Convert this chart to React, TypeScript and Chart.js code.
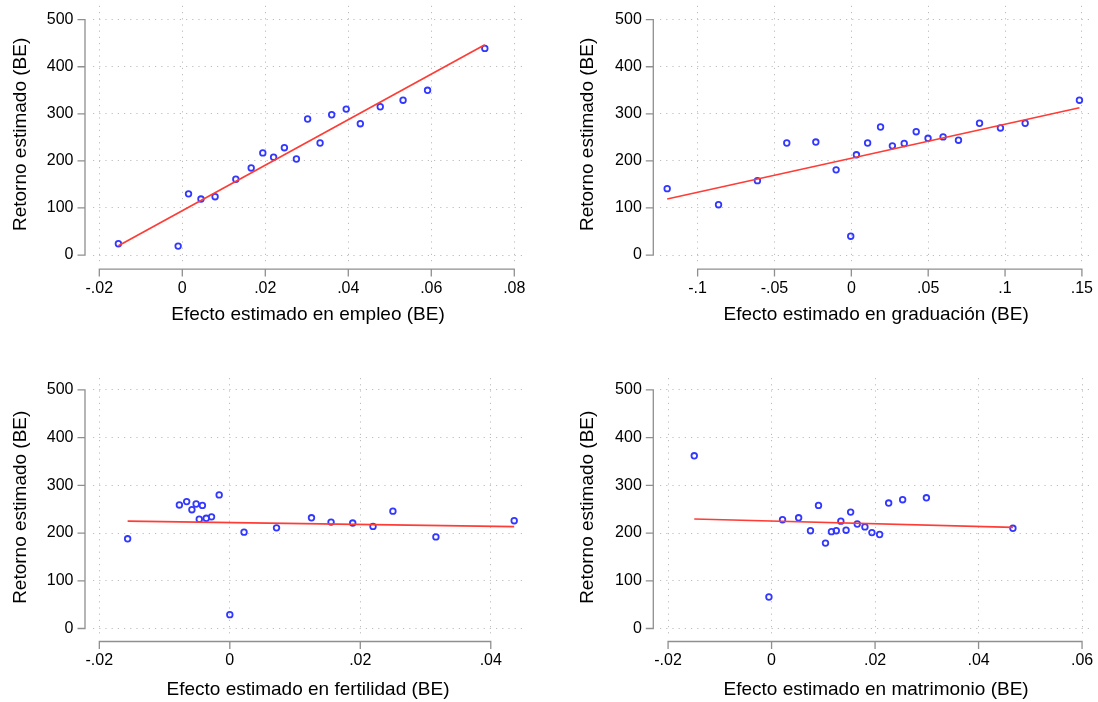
import React, { useEffect, useRef } from 'react';
import { Chart, registerables } from 'chart.js';

Chart.register(...registerables);

// ---------- shared ----------
const yTickValues = [0, 100, 200, 300, 400, 500];
const yTickLabels = ['0', '100', '200', '300', '400', '500'];
const yAxisTitle = 'Retorno estimado (BE)';

// ---------- panel 1: empleo ----------
const empleoTitle = 'Efecto estimado en empleo (BE)';
const empleoX = [-0.0154, -0.0010, 0.0015, 0.0045, 0.0079, 0.0129, 0.0166, 0.0194, 0.0220, 0.0246, 0.0275, 0.0302, 0.0332, 0.0360, 0.0395, 0.0429, 0.0477, 0.0532, 0.0591, 0.0729];
const empleoY = [24, 19, 130, 119, 124, 161, 185, 217, 208, 228, 204, 289, 238, 298, 310, 279, 315, 329, 350, 439];
const empleoFitX = [-0.0154, 0.0729];
const empleoFitY = [20, 447];
const empleoTicks = [-0.02, 0, 0.02, 0.04, 0.06, 0.08];
const empleoTickLabels = ['-.02', '0', '.02', '.04', '.06', '.08'];

// ---------- panel 2: graduación ----------
const graduacionTitle = 'Efecto estimado en graduación (BE)';
const graduacionX = [-0.1198, -0.0864, -0.0611, -0.0420, -0.0231, -0.0099, -0.0004, 0.0033, 0.0106, 0.0190, 0.0267, 0.0344, 0.0422, 0.0499, 0.0597, 0.0697, 0.0834, 0.0970, 0.1131, 0.1484];
const graduacionY = [141, 107, 158, 238, 240, 181, 40, 213, 238, 272, 232, 237, 262, 248, 251, 244, 280, 270, 280, 329];
const graduacionFitX = [-0.1198, 0.1484];
const graduacionFitY = [119, 313];
const graduacionTicks = [-0.1, -0.05, 0, 0.05, 0.1, 0.15];
const graduacionTickLabels = ['-.1', '-.05', '0', '.05', '.1', '.15'];

// ---------- panel 3: fertilidad ----------
const fertilidadTitle = 'Efecto estimado en fertilidad (BE)';
const fertilidadX = [-0.01566, -0.00773, -0.00661, -0.00581, -0.00516, -0.00468, -0.0042, -0.00361, -0.0028, -0.00163, 0.0000, 0.00218, 0.00716, 0.01252, 0.01552, 0.01884, 0.02195, 0.0250, 0.03159, 0.04359];
const fertilidadY = [188, 259, 266, 249, 261, 229, 258, 231, 234, 280, 29, 202, 211, 232, 223, 221, 214, 246, 192, 226];
const fertilidadFitX = [-0.01566, 0.04359];
const fertilidadFitY = [225, 213.5];
const fertilidadTicks = [-0.02, 0, 0.02, 0.04];
const fertilidadTickLabels = ['-.02', '0', '.02', '.04'];

// ---------- panel 4: matrimonio ----------
const matrimonioTitle = 'Efecto estimado en matrimonio (BE)';
const matrimonioX = [-0.01494, -0.00051, 0.00212, 0.00523, 0.00752, 0.00907, 0.01042, 0.01157, 0.01251, 0.01339, 0.0144, 0.01528, 0.01656, 0.01804, 0.01939, 0.02088, 0.02263, 0.02533, 0.02992, 0.04664];
const matrimonioY = [362, 66, 228, 232, 205, 258, 179, 203, 205, 225, 206, 244, 219, 213, 201, 197, 263, 270, 274, 210];
const matrimonioFitX = [-0.01494, 0.04664];
const matrimonioFitY = [229.5, 212];
const matrimonioTicks = [-0.02, 0, 0.02, 0.04, 0.06];
const matrimonioTickLabels = ['-.02', '0', '.02', '.04', '.06'];

// ---------- layout (positions only) ----------
const CW = 549;
const CH = 351;
const FONT = '"Liberation Sans", Arial, Helvetica, sans-serif';
const TICK_SIZE = 16;
const TITLE_SIZE = 19;
const AXIS_COLOR = '#8f8f8f';
const GRID_COLOR = '#bdbdbd';
const POINT_COLOR = '#3338ff';
const LINE_COLOR = '#ff3c36';

type Layout = {
  left: number; top: number;
  areaLeft: number; areaRight: number; areaTop: number; areaBottom: number;
  xMin: number; xMax: number; yMin: number; yMax: number;
  yAxisX: number; yTitleX: number; xTitleY: number; xAxisGap: number; xLabelPad: number;
};

const panels = [
  {
    title: empleoTitle, xs: empleoX, ys: empleoY, fx: empleoFitX, fy: empleoFitY,
    ticks: empleoTicks, tickLabels: empleoTickLabels,
    layout: { left: 0, top: 0, areaLeft: 93, areaRight: 523, areaTop: 4, areaBottom: 263,
      xMin: -0.02152, xMax: 0.0821, yMin: -16.9, yMax: 529.5,
      yAxisX: 85, yTitleX: 20.5, xTitleY: 315, xAxisGap: 14, xLabelPad: 15.9 } as Layout,
  },
  {
    title: graduacionTitle, xs: graduacionX, ys: graduacionY, fx: graduacionFitX, fy: graduacionFitY,
    ticks: graduacionTicks, tickLabels: graduacionTickLabels,
    layout: { left: 549, top: 0, areaLeft: 111, areaRight: 544, areaTop: 4, areaBottom: 263,
      xMin: -0.12448, xMax: 0.1567, yMin: -16.9, yMax: 529.5,
      yAxisX: 104.3, yTitleX: 38.5, xTitleY: 315, xAxisGap: 14, xLabelPad: 15.9 } as Layout,
  },
  {
    title: fertilidadTitle, xs: fertilidadX, ys: fertilidadY, fx: fertilidadFitX, fy: fertilidadFitY,
    ticks: fertilidadTicks, tickLabels: fertilidadTickLabels,
    layout: { left: 0, top: 351, areaLeft: 93, areaRight: 523, areaTop: 27, areaBottom: 285.5,
      xMin: -0.02097, xMax: 0.04494, yMin: -16.8, yMax: 525.1,
      yAxisX: 85, yTitleX: 20.5, xTitleY: 339, xAxisGap: 13, xLabelPad: 14.7 } as Layout,
  },
  {
    title: matrimonioTitle, xs: matrimonioX, ys: matrimonioY, fx: matrimonioFitX, fy: matrimonioFitY,
    ticks: matrimonioTicks, tickLabels: matrimonioTickLabels,
    layout: { left: 549, top: 351, areaLeft: 111, areaRight: 544, areaTop: 27, areaBottom: 285.5,
      xMin: -0.02156, xMax: 0.06196, yMin: -16.8, yMax: 525.1,
      yAxisX: 104.3, yTitleX: 38.5, xTitleY: 339, xAxisGap: 13, xLabelPad: 14.7 } as Layout,
  },
];

const stataAxes = {
  id: 'stataAxes',
  afterDraw(chart: any, _args: any, opts: any) {
    const { ctx, scales } = chart;
    const x = scales.x;
    const y = scales.y;
    const L: Layout = opts.layout;
    const xt: number[] = opts.ticks;
    ctx.save();
    ctx.strokeStyle = AXIS_COLOR;
    ctx.lineWidth = 1.3;
    ctx.lineCap = 'butt';
    // y axis
    const ax = L.yAxisX;
    const yTop = y.getPixelForValue(yTickValues[yTickValues.length - 1]);
    const yBot = y.getPixelForValue(yTickValues[0]);
    ctx.beginPath();
    ctx.moveTo(ax, yTop - 0.65);
    ctx.lineTo(ax, yBot + 0.65);
    yTickValues.forEach((v) => {
      const p = y.getPixelForValue(v);
      ctx.moveTo(ax, p);
      ctx.lineTo(ax - 7.5, p);
    });
    ctx.stroke();
    // x axis
    const ay = y.getPixelForValue(0) + L.xAxisGap;
    const x0 = x.getPixelForValue(xt[0]);
    const x1 = x.getPixelForValue(xt[xt.length - 1]);
    ctx.beginPath();
    ctx.moveTo(x0 - 0.65, ay);
    ctx.lineTo(x1 + 0.65, ay);
    xt.forEach((v) => {
      const p = x.getPixelForValue(v);
      ctx.moveTo(p, ay);
      ctx.lineTo(p, ay + 7.5);
    });
    ctx.stroke();
    ctx.restore();
  },
};

function Panel({ p }: { p: (typeof panels)[number] }) {
  const ref = useRef<HTMLCanvasElement | null>(null);
  useEffect(() => {
    const canvas = ref.current;
    if (!canvas) return;
    const L = p.layout;
    const points = p.xs.map((v, i) => ({ x: v, y: p.ys[i] }));
    const fit = p.fx.map((v, i) => ({ x: v, y: p.fy[i] }));
    const lh = TITLE_SIZE * 1.2;
    const chart = new Chart(canvas, {
      type: 'scatter',
      data: {
        datasets: [
          {
            data: fit,
            showLine: true,
            borderColor: LINE_COLOR,
            borderWidth: 1.7,
            pointRadius: 0,
            fill: false,
          } as any,
          {
            data: points,
            pointStyle: 'circle',
            pointRadius: 2.8,
            pointBorderWidth: 1.8,
            borderColor: POINT_COLOR,
            pointBorderColor: POINT_COLOR,
            backgroundColor: 'rgba(0,0,0,0)',
            pointBackgroundColor: 'rgba(0,0,0,0)',
          } as any,
        ],
      },
      plugins: [stataAxes],
      options: {
        animation: false,
        responsive: false,
        maintainAspectRatio: false,
        events: [],
        layout: {
          padding: { left: 0, top: L.areaTop, right: CW - L.areaRight, bottom: 0 },
        },
        plugins: {
          legend: { display: false },
          tooltip: { enabled: false },
          stataAxes: { layout: L, ticks: p.ticks },
        } as any,
        scales: {
          x: {
            type: 'linear',
            min: L.xMin,
            max: L.xMax,
            afterBuildTicks: (s: any) => {
              s.ticks = p.ticks.map((v) => ({ value: v }));
            },
            afterFit: (s: any) => {
              s.height = CH - L.areaBottom;
              s.paddingLeft = 0;
              s.paddingRight = 0;
              s.paddingTop = 0;
              s.paddingBottom = 0;
            },
            grid: {
              display: true,
              drawOnChartArea: true,
              drawTicks: true,
              tickLength: L.xLabelPad,
              tickColor: 'rgba(0,0,0,0)',
              color: GRID_COLOR,
              lineWidth: 1,
            },
            border: { display: false, dash: [1.2, 5.0] },
            ticks: {
              autoSkip: false,
              maxRotation: 0,
              minRotation: 0,
              padding: 0,
              color: '#000',
              font: { family: FONT, size: TICK_SIZE },
              callback: (_v: any, i: number) => p.tickLabels[i],
            },
            title: {
              display: true,
              text: p.title,
              color: '#000',
              font: { family: FONT, size: TITLE_SIZE },
              padding: { top: 0, bottom: CH - lh / 2 - L.xTitleY },
            },
          },
          y: {
            type: 'linear',
            min: L.yMin,
            max: L.yMax,
            afterBuildTicks: (s: any) => {
              s.ticks = yTickValues.map((v) => ({ value: v }));
            },
            afterFit: (s: any) => {
              s.width = L.areaLeft;
              s.paddingLeft = 0;
              s.paddingRight = 0;
              s.paddingTop = 0;
              s.paddingBottom = 0;
            },
            grid: {
              display: true,
              drawOnChartArea: true,
              drawTicks: true,
              tickLength: L.areaLeft - L.yAxisX + 11.5,
              tickColor: 'rgba(0,0,0,0)',
              color: GRID_COLOR,
              lineWidth: 1,
            },
            border: { display: false, dash: [1.2, 5.0] },
            ticks: {
              autoSkip: false,
              padding: 0,
              color: '#000',
              font: { family: FONT, size: TICK_SIZE },
              callback: (_v: any, i: number) => yTickLabels[i],
            },
            title: {
              display: true,
              text: yAxisTitle,
              color: '#000',
              font: { family: FONT, size: TITLE_SIZE },
              padding: { top: L.yTitleX - lh / 2, bottom: 0 },
            },
          },
        },
      },
    });
    return () => chart.destroy();
  }, [p]);
  return (
    <canvas
      ref={ref}
      width={CW}
      height={CH}
      style={{ position: 'absolute', left: p.layout.left, top: p.layout.top, width: CW, height: CH }}
    />
  );
}

export default function App() {
  return (
    <div style={{ position: 'absolute', left: 0, top: 0, width: 1098, height: 702, background: '#fff', overflow: 'hidden' }}>
      {panels.map((p, i) => (
        <Panel key={i} p={p} />
      ))}
    </div>
  );
}
